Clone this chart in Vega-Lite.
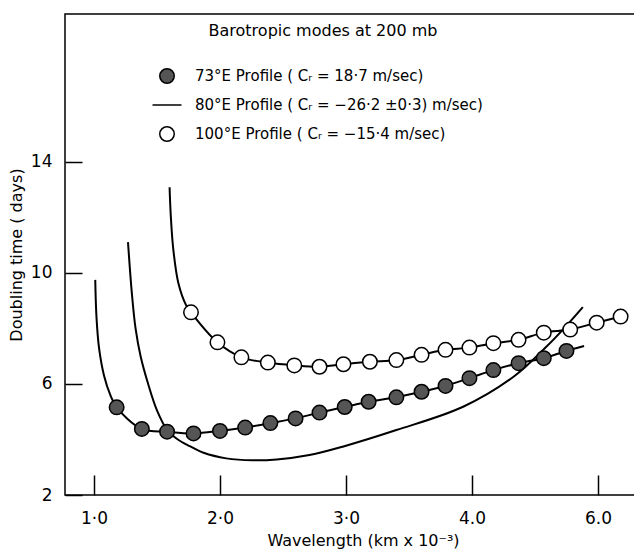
{
  "$schema": "https://vega.github.io/schema/vega-lite/v6.json",
  "width": 570,
  "height": 481,
  "autosize": "none",
  "padding": {"left": 65, "top": 14, "right": 0, "bottom": 61},
  "background": "white",
  "config": {
    "view": {"stroke": "black", "strokeWidth": 1.5},
    "font": "DejaVu Sans",
    "axis": {"grid": false, "domain": false, "tickColor": "black", "tickWidth": 1.5, "labelColor": "black", "titleColor": "black", "labelFont": "DejaVu Sans", "titleFont": "DejaVu Sans", "titleFontWeight": "normal"},
    "legend": {"labelFont": "DejaVu Sans", "titleFont": "DejaVu Sans", "labelLimit": 400, "titleLimit": 400}
  },
  "data": {
    "values": [
      {"series": "73°E  Profile ( Cᵣ = 18·7 m/sec)", "wavelength": 1.01, "doubling": 9.75, "marker": false},
      {"series": "73°E  Profile ( Cᵣ = 18·7 m/sec)", "wavelength": 1.02, "doubling": 8.4, "marker": false},
      {"series": "73°E  Profile ( Cᵣ = 18·7 m/sec)", "wavelength": 1.04, "doubling": 7.3, "marker": false},
      {"series": "73°E  Profile ( Cᵣ = 18·7 m/sec)", "wavelength": 1.08, "doubling": 6.3, "marker": false},
      {"series": "73°E  Profile ( Cᵣ = 18·7 m/sec)", "wavelength": 1.13, "doubling": 5.6, "marker": false},
      {"series": "73°E  Profile ( Cᵣ = 18·7 m/sec)", "wavelength": 1.18, "doubling": 5.16, "marker": true},
      {"series": "73°E  Profile ( Cᵣ = 18·7 m/sec)", "wavelength": 1.38, "doubling": 4.38, "marker": true},
      {"series": "73°E  Profile ( Cᵣ = 18·7 m/sec)", "wavelength": 1.58, "doubling": 4.28, "marker": true},
      {"series": "73°E  Profile ( Cᵣ = 18·7 m/sec)", "wavelength": 1.79, "doubling": 4.22, "marker": true},
      {"series": "73°E  Profile ( Cᵣ = 18·7 m/sec)", "wavelength": 2.0, "doubling": 4.31, "marker": true},
      {"series": "73°E  Profile ( Cᵣ = 18·7 m/sec)", "wavelength": 2.2, "doubling": 4.43, "marker": true},
      {"series": "73°E  Profile ( Cᵣ = 18·7 m/sec)", "wavelength": 2.4, "doubling": 4.59, "marker": true},
      {"series": "73°E  Profile ( Cᵣ = 18·7 m/sec)", "wavelength": 2.6, "doubling": 4.76, "marker": true},
      {"series": "73°E  Profile ( Cᵣ = 18·7 m/sec)", "wavelength": 2.79, "doubling": 4.97, "marker": true},
      {"series": "73°E  Profile ( Cᵣ = 18·7 m/sec)", "wavelength": 2.99, "doubling": 5.17, "marker": true},
      {"series": "73°E  Profile ( Cᵣ = 18·7 m/sec)", "wavelength": 3.18, "doubling": 5.36, "marker": true},
      {"series": "73°E  Profile ( Cᵣ = 18·7 m/sec)", "wavelength": 3.4, "doubling": 5.52, "marker": true},
      {"series": "73°E  Profile ( Cᵣ = 18·7 m/sec)", "wavelength": 3.6, "doubling": 5.72, "marker": true},
      {"series": "73°E  Profile ( Cᵣ = 18·7 m/sec)", "wavelength": 3.79, "doubling": 5.93, "marker": true},
      {"series": "73°E  Profile ( Cᵣ = 18·7 m/sec)", "wavelength": 3.98, "doubling": 6.21, "marker": true},
      {"series": "73°E  Profile ( Cᵣ = 18·7 m/sec)", "wavelength": 4.17, "doubling": 6.5, "marker": true},
      {"series": "73°E  Profile ( Cᵣ = 18·7 m/sec)", "wavelength": 4.37, "doubling": 6.75, "marker": true},
      {"series": "73°E  Profile ( Cᵣ = 18·7 m/sec)", "wavelength": 4.57, "doubling": 6.93, "marker": true},
      {"series": "73°E  Profile ( Cᵣ = 18·7 m/sec)", "wavelength": 4.75, "doubling": 7.19, "marker": true},
      {"series": "73°E  Profile ( Cᵣ = 18·7 m/sec)", "wavelength": 4.89, "doubling": 7.37, "marker": false},

      {"series": "80°E  Profile ( Cᵣ = −26·2 ±0·3) m/sec)", "wavelength": 1.27, "doubling": 11.11, "marker": false},
      {"series": "80°E  Profile ( Cᵣ = −26·2 ±0·3) m/sec)", "wavelength": 1.30, "doubling": 9.3, "marker": false},
      {"series": "80°E  Profile ( Cᵣ = −26·2 ±0·3) m/sec)", "wavelength": 1.33, "doubling": 8.0, "marker": false},
      {"series": "80°E  Profile ( Cᵣ = −26·2 ±0·3) m/sec)", "wavelength": 1.37, "doubling": 7.0, "marker": false},
      {"series": "80°E  Profile ( Cᵣ = −26·2 ±0·3) m/sec)", "wavelength": 1.43, "doubling": 6.0, "marker": false},
      {"series": "80°E  Profile ( Cᵣ = −26·2 ±0·3) m/sec)", "wavelength": 1.50, "doubling": 5.05, "marker": false},
      {"series": "80°E  Profile ( Cᵣ = −26·2 ±0·3) m/sec)", "wavelength": 1.58, "doubling": 4.35, "marker": false},
      {"series": "80°E  Profile ( Cᵣ = −26·2 ±0·3) m/sec)", "wavelength": 1.66, "doubling": 4.02, "marker": false},
      {"series": "80°E  Profile ( Cᵣ = −26·2 ±0·3) m/sec)", "wavelength": 1.76, "doubling": 3.76, "marker": false},
      {"series": "80°E  Profile ( Cᵣ = −26·2 ±0·3) m/sec)", "wavelength": 1.87, "doubling": 3.52, "marker": false},
      {"series": "80°E  Profile ( Cᵣ = −26·2 ±0·3) m/sec)", "wavelength": 2.05, "doubling": 3.32, "marker": false},
      {"series": "80°E  Profile ( Cᵣ = −26·2 ±0·3) m/sec)", "wavelength": 2.26, "doubling": 3.25, "marker": false},
      {"series": "80°E  Profile ( Cᵣ = −26·2 ±0·3) m/sec)", "wavelength": 2.45, "doubling": 3.28, "marker": false},
      {"series": "80°E  Profile ( Cᵣ = −26·2 ±0·3) m/sec)", "wavelength": 2.71, "doubling": 3.44, "marker": false},
      {"series": "80°E  Profile ( Cᵣ = −26·2 ±0·3) m/sec)", "wavelength": 2.98, "doubling": 3.75, "marker": false},
      {"series": "80°E  Profile ( Cᵣ = −26·2 ±0·3) m/sec)", "wavelength": 3.40, "doubling": 4.34, "marker": false},
      {"series": "80°E  Profile ( Cᵣ = −26·2 ±0·3) m/sec)", "wavelength": 3.93, "doubling": 5.18, "marker": false},
      {"series": "80°E  Profile ( Cᵣ = −26·2 ±0·3) m/sec)", "wavelength": 4.33, "doubling": 6.26, "marker": false},
      {"series": "80°E  Profile ( Cᵣ = −26·2 ±0·3) m/sec)", "wavelength": 4.59, "doubling": 7.34, "marker": false},
      {"series": "80°E  Profile ( Cᵣ = −26·2 ±0·3) m/sec)", "wavelength": 4.72, "doubling": 7.95, "marker": false},
      {"series": "80°E  Profile ( Cᵣ = −26·2 ±0·3) m/sec)", "wavelength": 4.88, "doubling": 8.77, "marker": false},

      {"series": "100°E Profile ( Cᵣ = −15·4 m/sec)", "wavelength": 1.60, "doubling": 13.09, "marker": false},
      {"series": "100°E Profile ( Cᵣ = −15·4 m/sec)", "wavelength": 1.61, "doubling": 12.03, "marker": false},
      {"series": "100°E Profile ( Cᵣ = −15·4 m/sec)", "wavelength": 1.63, "doubling": 10.83, "marker": false},
      {"series": "100°E Profile ( Cᵣ = −15·4 m/sec)", "wavelength": 1.67, "doubling": 9.63, "marker": false},
      {"series": "100°E Profile ( Cᵣ = −15·4 m/sec)", "wavelength": 1.73, "doubling": 8.85, "marker": false},
      {"series": "100°E Profile ( Cᵣ = −15·4 m/sec)", "wavelength": 1.77, "doubling": 8.58, "marker": true},
      {"series": "100°E Profile ( Cᵣ = −15·4 m/sec)", "wavelength": 1.98, "doubling": 7.5, "marker": true},
      {"series": "100°E Profile ( Cᵣ = −15·4 m/sec)", "wavelength": 2.17, "doubling": 6.96, "marker": true},
      {"series": "100°E Profile ( Cᵣ = −15·4 m/sec)", "wavelength": 2.38, "doubling": 6.77, "marker": true},
      {"series": "100°E Profile ( Cᵣ = −15·4 m/sec)", "wavelength": 2.59, "doubling": 6.67, "marker": true},
      {"series": "100°E Profile ( Cᵣ = −15·4 m/sec)", "wavelength": 2.79, "doubling": 6.62, "marker": true},
      {"series": "100°E Profile ( Cᵣ = −15·4 m/sec)", "wavelength": 2.98, "doubling": 6.71, "marker": true},
      {"series": "100°E Profile ( Cᵣ = −15·4 m/sec)", "wavelength": 3.19, "doubling": 6.8, "marker": true},
      {"series": "100°E Profile ( Cᵣ = −15·4 m/sec)", "wavelength": 3.4, "doubling": 6.86, "marker": true},
      {"series": "100°E Profile ( Cᵣ = −15·4 m/sec)", "wavelength": 3.6, "doubling": 7.05, "marker": true},
      {"series": "100°E Profile ( Cᵣ = −15·4 m/sec)", "wavelength": 3.79, "doubling": 7.23, "marker": true},
      {"series": "100°E Profile ( Cᵣ = −15·4 m/sec)", "wavelength": 3.98, "doubling": 7.31, "marker": true},
      {"series": "100°E Profile ( Cᵣ = −15·4 m/sec)", "wavelength": 4.17, "doubling": 7.47, "marker": true},
      {"series": "100°E Profile ( Cᵣ = −15·4 m/sec)", "wavelength": 4.37, "doubling": 7.59, "marker": true},
      {"series": "100°E Profile ( Cᵣ = −15·4 m/sec)", "wavelength": 4.57, "doubling": 7.85, "marker": true},
      {"series": "100°E Profile ( Cᵣ = −15·4 m/sec)", "wavelength": 4.78, "doubling": 7.96, "marker": true},
      {"series": "100°E Profile ( Cᵣ = −15·4 m/sec)", "wavelength": 4.99, "doubling": 8.21, "marker": true},
      {"series": "100°E Profile ( Cᵣ = −15·4 m/sec)", "wavelength": 5.18, "doubling": 8.43, "marker": true}
    ]
  },
  "encoding": {
    "x": {
      "field": "wavelength", "type": "quantitative",
      "scale": {"domain": [0.77, 5.294], "nice": false, "zero": false},
      "axis": {
        "values": [1, 2, 3, 4, 5],
        "labelExpr": "datum.value == 5 ? '6.0' : datum.value == 4 ? '4.0' : replace(format(datum.value, '.1f'), '.', '·')",
        "tickSize": -20, "labelPadding": 35, "labelFontSize": 17,
        "title": "Wavelength  (km x 10⁻³)", "titleFontSize": 16, "titlePadding": 6, "titleX": 298
      }
    },
    "y": {
      "field": "doubling", "type": "quantitative",
      "scale": {"domain": [2, 19.33], "nice": false, "zero": false},
      "axis": {
        "values": [2, 6, 10, 14],
        "tickSize": -17, "labelPadding": 30, "labelFontSize": 17,
        "title": "Doubling time ( days)", "titleFontSize": 16, "titlePadding": 6
      }
    }
  },
  "layer": [
    {
      "mark": {"type": "line", "interpolate": "catmull-rom", "color": "black", "strokeWidth": 2},
      "encoding": {"detail": {"field": "series"}}
    },
    {
      "transform": [{"filter": "datum.marker"}],
      "mark": {"type": "point", "filled": true, "stroke": "black", "strokeWidth": 1.5, "opacity": 1, "size": 210},
      "encoding": {
        "shape": {
          "field": "series", "type": "nominal",
          "scale": {"domain": ["73°E  Profile ( Cᵣ = 18·7 m/sec)", "80°E  Profile ( Cᵣ = −26·2 ±0·3) m/sec)", "100°E Profile ( Cᵣ = −15·4 m/sec)"], "range": ["circle", "M-2,0H2", "circle"]},
          "legend": {"title": "Barotropic modes at 200 mb", "orient": "none", "legendX": 94, "legendY": 9, "titleFontSize": 16, "titleFontWeight": "normal", "titleAnchor": "middle", "titlePadding": 29, "labelFontSize": 15, "labelOffset": 20, "rowPadding": 10, "symbolSize": 210, "labelColor": "black", "titleColor": "black",
            "encode": {"symbols": {"update": {"stroke": {"value": "black"}, "strokeWidth": {"value": 1.8}}}}}
        },
        "fill": {
          "field": "series", "type": "nominal",
          "scale": {"domain": ["73°E  Profile ( Cᵣ = 18·7 m/sec)", "80°E  Profile ( Cᵣ = −26·2 ±0·3) m/sec)", "100°E Profile ( Cᵣ = −15·4 m/sec)"], "range": ["#555555", "black", "white"]},
          "legend": {"title": "Barotropic modes at 200 mb", "orient": "none", "legendX": 94, "legendY": 9, "titleFontSize": 16, "titleFontWeight": "normal", "titleAnchor": "middle", "titlePadding": 29, "labelFontSize": 15, "labelOffset": 20, "rowPadding": 10, "symbolSize": 210, "labelColor": "black", "titleColor": "black",
            "encode": {"symbols": {"update": {"stroke": {"value": "black"}, "strokeWidth": {"value": 1.8}}}}}
        }
      }
    }
  ]
}
